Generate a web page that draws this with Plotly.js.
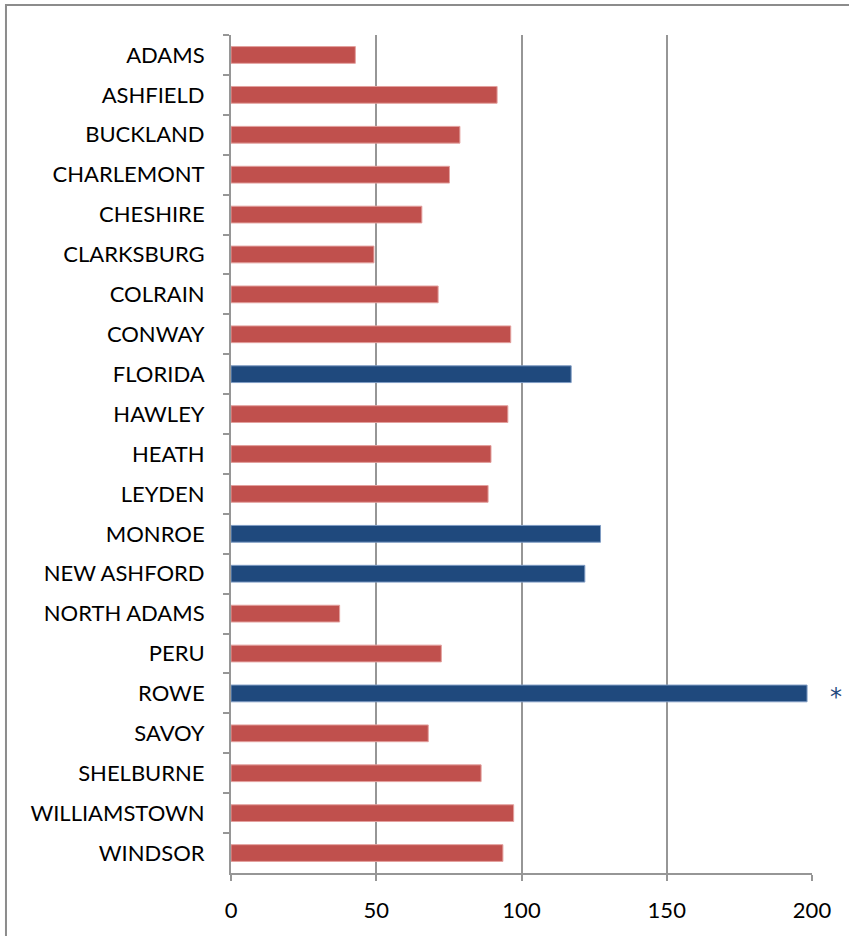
<!DOCTYPE html>
<html>
<head>
<meta charset="utf-8">
<script src="https://cdn.plot.ly/plotly-3.0.1.min.js"></script>
<style>html,body{margin:0;padding:0;background:#fff;}#chart{width:849px;height:936px;}</style>
</head>
<body>
<div id="chart"></div>
<script>
const towns = ["ADAMS","ASHFIELD","BUCKLAND","CHARLEMONT","CHESHIRE","CLARKSBURG","COLRAIN","CONWAY","FLORIDA","HAWLEY","HEATH","LEYDEN","MONROE","NEW ASHFORD","NORTH ADAMS","PERU","ROWE","SAVOY","SHELBURNE","WILLIAMSTOWN","WINDSOR"];
const values = [42.8,91.6,78.8,75.2,65.7,49.2,71.3,96.3,117.1,95.3,89.5,88.5,127.2,121.8,37.4,72.4,198.3,67.9,86.1,97.3,93.6];
const highlighted = ["FLORIDA","MONROE","NEW ASHFORD","ROWE"];
const xTicks = [0,50,100,150,200];
const noteTown = "ROWE";
const noteText = "*";

const RED = "#C0504D", BLUE = "#1F497D";
const colors = towns.map(t => highlighted.includes(t) ? BLUE : RED);
const lineColors = towns.map(t => highlighted.includes(t) ? "#7f9cc4" : "#e3a09e");

const trace = {
  type: "bar", orientation: "h",
  x: values, y: towns,
  width: 0.42,
  marker: {color: colors, line: {color: lineColors, width: 1}},
  hoverinfo: "x+y"
};

const layout = {
  width: 849, height: 936,
  margin: {l: 231, r: 37, t: 35, b: 63},
  paper_bgcolor: "#fff", plot_bgcolor: "#fff",
  showlegend: false,
  font: {family: "Lato, 'Open Sans', sans-serif", color: "#000", size: 22},
  xaxis: {
    range: [0, 200], tickvals: xTicks, ticktext: xTicks.map(String),
    showgrid: true, gridcolor: "#969696", gridwidth: 2,
    zeroline: false, showline: true, linecolor: "#969696", linewidth: 2,
    ticks: "outside", ticklen: 6, tickcolor: "#969696", tickwidth: 2,
    ticklabelstandoff: 11,
    tickfont: {size: 22, color: "#000"}, fixedrange: true
  },
  yaxis: {
    type: "category", categoryorder: "array", categoryarray: towns,
    autorange: "reversed",
    showgrid: false, zeroline: false, showline: true, linecolor: "#969696", linewidth: 2,
    ticks: "outside", tickson: "boundaries", ticklen: 6, tickcolor: "#969696", tickwidth: 2,
    ticklabelstandoff: 20,
    tickfont: {size: 22, color: "#000"}, fixedrange: true
  },
  shapes: [
    {type: "rect", xref: "paper", yref: "paper", x0: -0.3873, x1: 1.3, y0: -0.3, y1: 1.0358,
     line: {color: "#8c8c8c", width: 2}, fillcolor: "rgba(0,0,0,0)", layer: "below"}
  ],
  annotations: [
    {x: 198.6, y: noteTown, xref: "x", yref: "y", xanchor: "left", yanchor: "middle",
     text: noteText, showarrow: false, bgcolor: "#fff", width: 54, height: 44, align: "center",
     yshift: -4,
     font: {size: 24, color: BLUE, family: "'DejaVu Sans', sans-serif"}, borderpad: 0}
  ]
};

Plotly.newPlot("chart", [trace], layout, {displayModeBar: false, staticPlot: true});
</script>
</body>
</html>
